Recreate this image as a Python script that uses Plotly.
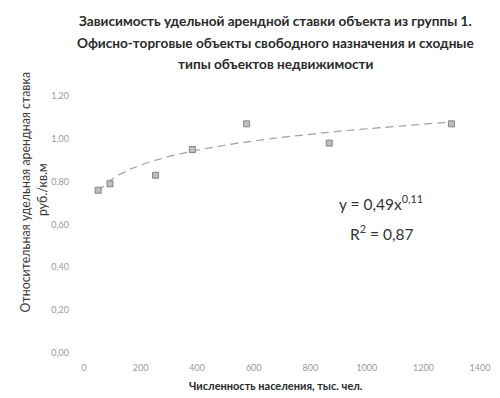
import numpy as np
import plotly.graph_objects as go

# Population (thousand people) and relative specific rental rate
population = [50, 92, 253, 383, 575, 867, 1299]
rent_rate = [0.76, 0.79, 0.83, 0.95, 1.07, 0.98, 1.07]

# Power trend line y = a * x^b
trend_a = 0.49
trend_b = 0.11
r_squared = 0.87

x_ticks = [0, 200, 400, 600, 800, 1000, 1200, 1400]
y_ticks = [0.0, 0.2, 0.4, 0.6, 0.8, 1.0, 1.2]

title_lines = [
    "Зависимость удельной арендной ставки объекта из группы 1.",
    "Офисно-торговые объекты свободного назначения и сходные",
    "типы объектов недвижимости",
]
x_title = "Численность населения, тыс. чел."
y_title_lines = ["Относительная удельная арендная ставка", "руб./кв.м"]


def fmt_comma(v, digits):
    return f"{v:.{digits}f}".replace(".", ",")


trend_x = np.linspace(min(population), max(population), 200)
trend_y = trend_a * trend_x ** trend_b

fig = go.Figure()
fig.add_trace(go.Scatter(
    x=trend_x, y=trend_y, mode="lines",
    line=dict(color="#a0a0a0", width=1.2, dash="8px,5px"),
    hoverinfo="skip", showlegend=False,
))
fig.add_trace(go.Scatter(
    x=population, y=rent_rate, mode="markers",
    marker=dict(symbol="square", size=6, color="#bdbdbd",
                line=dict(color="#858585", width=1)),
    showlegend=False,
))

annotations = []
for text, py in zip(title_lines, [21, 43, 64]):
    annotations.append(dict(
        text=f"<b>{text}</b>", x=0.483, y=(353 - py) / 257,
        xref="paper", yref="paper", xanchor="center", yanchor="middle",
        showarrow=False, font=dict(family="Lato", size=13.6, color="#2a2a2a"),
    ))
annotations.append(dict(
    text=f"<b>{x_title}</b>", x=0.485, y=(353 - 385) / 257,
    xref="paper", yref="paper", xanchor="center", yanchor="middle",
    showarrow=False, font=dict(family="Lato", size=11, color="#2a2a2a"),
))
for text, px, py in zip(y_title_lines, [24, 41], [192, 190]):
    annotations.append(dict(
        text=text, x=(px - 84) / 406, y=(353 - py) / 257, textangle=-90,
        xref="paper", yref="paper", xanchor="center", yanchor="middle",
        showarrow=False, font=dict(family="Lato", size=12.4, color="#3a3a3a"),
    ))
annotations.append(dict(
    text=f"y = {fmt_comma(trend_a, 2)}x<sup>{fmt_comma(trend_b, 2)}</sup>",
    x=(389 - 84) / 406, y=(353 - 202) / 257,
    xref="paper", yref="paper", xanchor="center", yanchor="middle",
    showarrow=False, font=dict(family="Lato", size=15.5, color="#333333"),
))
annotations.append(dict(
    text=f"R<sup>2</sup> = {fmt_comma(r_squared, 2)}",
    x=(389 - 84) / 406, y=(353 - 232) / 257,
    xref="paper", yref="paper", xanchor="center", yanchor="middle",
    showarrow=False, font=dict(family="Lato", size=15.5, color="#333333"),
))

fig.update_layout(
    width=500, height=398,
    margin=dict(l=84, r=10, t=96, b=45),
    paper_bgcolor="white", plot_bgcolor="white",
    annotations=annotations,
    xaxis=dict(
        range=[0, 1400], tickvals=x_ticks, ticktext=[str(v) for v in x_ticks],
        showgrid=False, zeroline=False, showline=False, ticks="",
        ticklabelstandoff=8, ticklabeloverflow="allow",
        tickfont=dict(family="Lato", size=9, color="#9a9a9a"),
    ),
    yaxis=dict(
        range=[0, 1.2], tickvals=y_ticks,
        ticktext=[fmt_comma(v, 2) for v in y_ticks],
        showgrid=False, zeroline=False, showline=False, ticks="",
        ticklabelstandoff=14, ticklabeloverflow="allow",
        tickfont=dict(family="Lato", size=9, color="#9a9a9a"),
    ),
)

fig.write_html("out.html")
